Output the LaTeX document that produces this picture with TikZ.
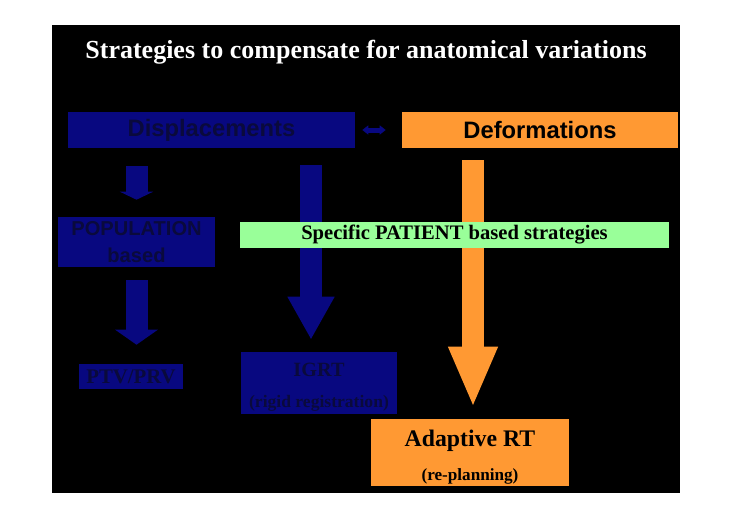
\documentclass[tikz,border=0pt]{standalone}
\usepackage{fontspec}
\setmainfont{Liberation Serif}
\setsansfont{Liberation Sans}
\usepackage{tikz}
\usetikzlibrary{arrows.meta}

\definecolor{slidenavy}{RGB}{8,8,128}
\definecolor{darknavy}{RGB}{10,10,60}
\definecolor{slideorange}{RGB}{255,153,51}
\definecolor{slidegreen}{RGB}{153,255,153}

\begin{document}
\begin{tikzpicture}[x=0.25mm, y=-0.25mm,
  navybox/.style={fill=slidenavy, text=darknavy, inner sep=0pt, align=center},
  orangebox/.style={fill=slideorange, text=black, inner sep=0pt, align=center},
  blockarrow/.style={line width=5.5mm}]
  % Slide background
  \useasboundingbox[fill=white] (0,0) rectangle (732,517);
  \fill[black] (52,25) rectangle (680,493);
  \node[text=white, font=\bfseries\fontsize{18.5}{22}\selectfont] (title) at (366,52)
    {Strategies to compensate for anatomical variations};

  % Top row
  \node[navybox, minimum width=71.75mm, minimum height=9mm,
        font=\sffamily\bfseries\fontsize{16.9}{20}\selectfont] (disp) at (211.5,130) {Displacements};
  \node[orangebox, minimum width=69mm, minimum height=9mm,
        font=\sffamily\bfseries\fontsize{16.9}{20}\selectfont] (deform) at (540,130) {Deformations};
  \draw[slidenavy, line width=1.25mm, {Triangle[length=1.5mm, width=2.25mm]}-{Triangle[length=1.5mm, width=2.25mm]},
        shorten <=1.75mm, shorten >=4mm] (disp.east) -- (deform.west);

  % Strategy boxes
  \node[navybox, minimum width=39.25mm, minimum height=12.5mm,
        font=\sffamily\bfseries\fontsize{14.3}{19.2}\selectfont] (pop) at (136.5,242) {POPULATION\\based};
  \node[navybox, minimum width=26mm, minimum height=6.25mm,
        font=\bfseries\fontsize{14.8}{17}\selectfont] (ptv) at (131,376.5) {PTV/PRV};
  \node[navybox, minimum width=39mm, minimum height=15.5mm,
        font=\bfseries\fontsize{14.4}{22}\selectfont] (igrt) at (319,383)
    {\rule{0pt}{15pt}IGRT\\\fontsize{12.5}{22}\selectfont (rigid registration)};
  \node[orangebox, minimum width=49.5mm, minimum height=16.75mm,
        font=\bfseries\fontsize{16.9}{24}\selectfont] (adapt) at (470,452.5)
    {\rule{0pt}{18pt}Adaptive RT\\\fontsize{12.2}{24}\selectfont (re-planning)};

  % Block arrows
  \draw[blockarrow, slidenavy, -{Triangle[length=2mm, width=8.25mm]},
        shorten <=4.5mm, shorten >=4.25mm] (disp.south -| pop.north) -- (pop.north);
  \draw[blockarrow, slidenavy, -{Triangle[length=3.75mm, width=10.5mm]},
        shorten <=3.25mm, shorten >=4.75mm] (pop.south) -- (pop.south |- ptv.north);
  \draw[blockarrow, slidenavy, -{Triangle[length=10.75mm, width=11mm]},
        shorten <=4.25mm, shorten >=3mm] ([xshift=-2mm]igrt.north |- disp.south) -- ([xshift=-2mm]igrt.north);
  \draw[blockarrow, slideorange, -{Triangle[length=15.25mm, width=11.25mm]},
        shorten <=3mm, shorten >=2.75mm] ([xshift=0.75mm]adapt.north |- deform.south) -- ([xshift=0.75mm]adapt.north);

  % Patient band on top
  \node[fill=slidegreen, inner sep=0pt, minimum width=107.25mm, minimum height=6.5mm,
        font=\bfseries\fontsize{14.65}{17}\selectfont] (patient) at (454.5,235)
    {Specific PATIENT based strategies};
\end{tikzpicture}
\end{document}
